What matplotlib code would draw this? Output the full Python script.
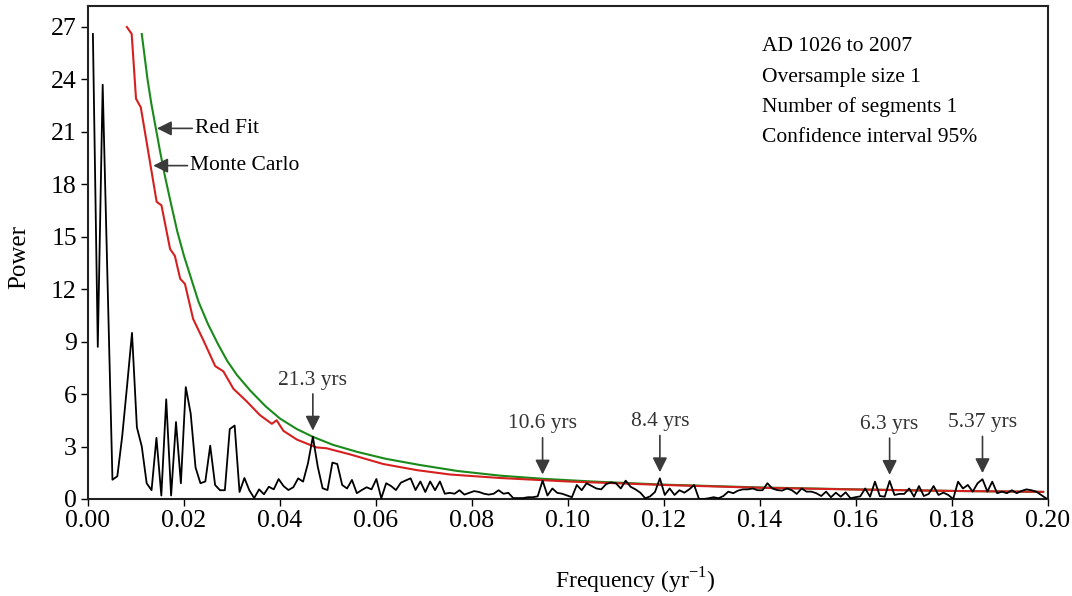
import numpy as np
import matplotlib
matplotlib.use('Agg')
import matplotlib.pyplot as plt

plt.rcParams['font.family'] = ['Liberation Serif', 'DejaVu Serif']
plt.rcParams['mathtext.fontset'] = 'custom'
plt.rcParams['mathtext.rm'] = 'Liberation Serif'

# spectrum: AD 1026-2007 (982 yrs), frequency step 1/982
n_years = 982
power = [
    26.6, 8.7, 23.7, 12.4, 1.1, 1.3, 3.6, 6.5, 9.5, 4.1,
    3.0, 0.9, 0.5, 3.5, 0.2, 5.7, 0.2, 4.4, 0.9, 6.4,
    4.9, 1.8, 0.9, 1.0, 3.05, 0.8, 0.5, 0.5, 4.0, 4.2,
    0.4, 1.2, 0.5, 0.05, 0.55, 0.27, 0.7, 0.55, 1.14, 0.74,
    0.51, 0.67, 1.18, 0.99, 2.04, 3.56, 1.85, 0.61, 0.51, 2.08,
    2.0, 0.8, 0.6, 1.09, 0.33, 0.51, 0.67, 0.55, 1.14, 0.04,
    0.9, 0.74, 0.51, 0.93, 1.06, 1.18, 0.51, 1.0, 0.4, 1.0,
    0.5, 1.0, 0.3, 0.35, 0.3, 0.5, 0.25, 0.35, 0.45, 0.4,
    0.3, 0.25, 0.3, 0.5, 0.3, 0.35, 0.05, 0.05, 0.05, 0.1,
    0.1, 0.15, 1.05, 0.2, 0.6, 0.35, 0.3, 0.2, 0.1, 0.8,
    0.5, 0.9, 0.75, 0.6, 0.55, 0.85, 0.95, 0.9, 0.6, 1.05,
    0.7, 0.55, 0.36, 0.04, 0.15, 0.4, 1.18, 0.23, 0.6, 0.23,
    0.5, 0.36, 0.55, 0.8, 0.0, 0.0, 0.04, 0.1, 0.04, 0.17,
    0.42, 0.33, 0.48, 0.55, 0.55, 0.6, 0.5, 0.5, 0.9, 0.6,
    0.51, 0.48, 0.6, 0.5, 0.29, 0.6, 0.42, 0.42, 0.33, 0.17,
    0.42, 0.1, 0.36, 0.13, 0.38, 0.04, 0.1, 0.15, 0.6, 0.13,
    0.99, 0.17, 0.13, 1.03, 0.23, 0.29, 0.29, 0.6, 0.13, 0.74,
    0.17, 0.29, 0.74, 0.23, 0.36, 0.23, 0.0, 0.99, 0.6, 0.8,
    0.42, 0.9, 1.13, 0.42, 0.99, 0.33, 0.42, 0.33, 0.5, 0.33,
    0.46, 0.55, 0.5, 0.42, 0.23, 0.04,
]
freq = np.arange(1, len(power) + 1) / n_years

# theoretical red-noise spectrum (Red Fit)
redfit_f = [0.0112, 0.0118, 0.0124, 0.0132, 0.0140, 0.0150, 0.0160, 0.0172,
            0.0186, 0.0200, 0.0215, 0.0230, 0.0250, 0.0270, 0.0290, 0.0310,
            0.0338, 0.0370, 0.0400, 0.0435, 0.0469, 0.0510, 0.0560, 0.0620,
            0.0690, 0.0770, 0.0860, 0.0950, 0.105, 0.120, 0.140, 0.160,
            0.180, 0.199]
redfit_p = [26.6, 25.3, 24.0, 22.6, 21.4, 19.9, 18.5, 17.0,
            15.3, 13.9, 12.6, 11.3, 10.0, 8.9, 7.9, 7.1,
            6.2, 5.3, 4.6, 4.0, 3.55, 3.1, 2.7, 2.3,
            1.95, 1.6, 1.33, 1.15, 1.0, 0.82, 0.66, 0.55,
            0.46, 0.40]

# Monte Carlo 95% confidence level
mc_f = [0.0081, 0.0091, 0.0100, 0.0110, 0.0143, 0.0153, 0.0171, 0.0181,
        0.0192, 0.0202, 0.0219, 0.0240, 0.0265, 0.0282, 0.0303, 0.0330,
        0.0358, 0.0383, 0.0393, 0.0407, 0.0435, 0.0462, 0.0476, 0.0497,
        0.0546, 0.0615, 0.0685, 0.0754, 0.0858, 0.100, 0.120, 0.140,
        0.160, 0.180, 0.199]
mc_p = [27.0, 26.6, 22.9, 22.4, 17.0, 16.8, 14.3, 13.9,
        12.6, 12.3, 10.3, 9.1, 7.6, 7.3, 6.3, 5.6,
        4.8, 4.3, 4.5, 3.9, 3.4, 3.1, 2.95, 2.9,
        2.55, 2.0, 1.65, 1.4, 1.2, 1.0, 0.8, 0.64,
        0.54, 0.46, 0.41]

peak_labels = ['21.3 yrs', '10.6 yrs', '8.4 yrs', '6.3 yrs', '5.37 yrs']
peak_idx = [46, 93, 117, 164, 183]

info_lines = ['AD 1026 to 2007', 'Oversample size 1',
              'Number of segments 1', 'Confidence interval 95%']

fig = plt.figure(figsize=(10.72, 5.96), dpi=100)
ax = fig.add_axes([0.0821, 0.1628, 0.8955, 0.8271])

ax.plot(freq, power, color='black', lw=1.3, zorder=3)
ax.plot(redfit_f, redfit_p, color='#1a8a1a', lw=1.5, zorder=2)
ax.plot(mc_f, mc_p, color='#d62020', lw=1.5, zorder=2.5)

ax.set_xlim(0, 0.2)
ax.set_ylim(0, 28.2)
ax.set_xticks(np.arange(0, 0.201, 0.02))
ax.set_xticklabels(['%.2f' % v for v in np.arange(0, 0.201, 0.02)])
ax.set_yticks(np.arange(0, 28, 3))
ax.tick_params(direction='out', length=5, width=1, labelsize=18.5, pad=3)
for s in ax.spines.values():
    s.set_linewidth(1.5)
    s.set_color('#222222')

ax.set_xlabel(r'Frequency (yr$^{\mathrm{-1}}$)', fontsize=17)
ax.xaxis.set_label_coords(0.57, -0.135)
ax.set_ylabel('Power', fontsize=18)
ax.yaxis.set_label_coords(-0.06, 0.49)

arrow_kw = dict(arrowstyle='-|>', color='#3a3a3a', lw=1.2, mutation_scale=22,
                shrinkA=0, shrinkB=0)
for lab, i in zip(peak_labels, peak_idx):
    f = freq[i - 1]
    tip = power[i - 1] + 0.35
    ax.annotate('', xy=(f, tip), xytext=(f, tip + 2.1), arrowprops=arrow_kw)
    ax.text(f, tip + 2.35, lab, ha='center', va='bottom', fontsize=15.5,
            color='#333333')

ax.annotate('Red Fit', xy=(0.01437, 21.2), xytext=(0.0223, 21.2),
            fontsize=15.5, va='center', arrowprops=arrow_kw)
ax.annotate('Monte Carlo', xy=(0.0136, 19.07), xytext=(0.0213, 19.07),
            fontsize=15.5, va='center', arrowprops=arrow_kw)

for k, line in enumerate(info_lines):
    ax.text(0.702, 0.917 - k * 0.061, line, transform=ax.transAxes,
            fontsize=15.5, va='center', ha='left')

fig.savefig('out.png', dpi=100)
